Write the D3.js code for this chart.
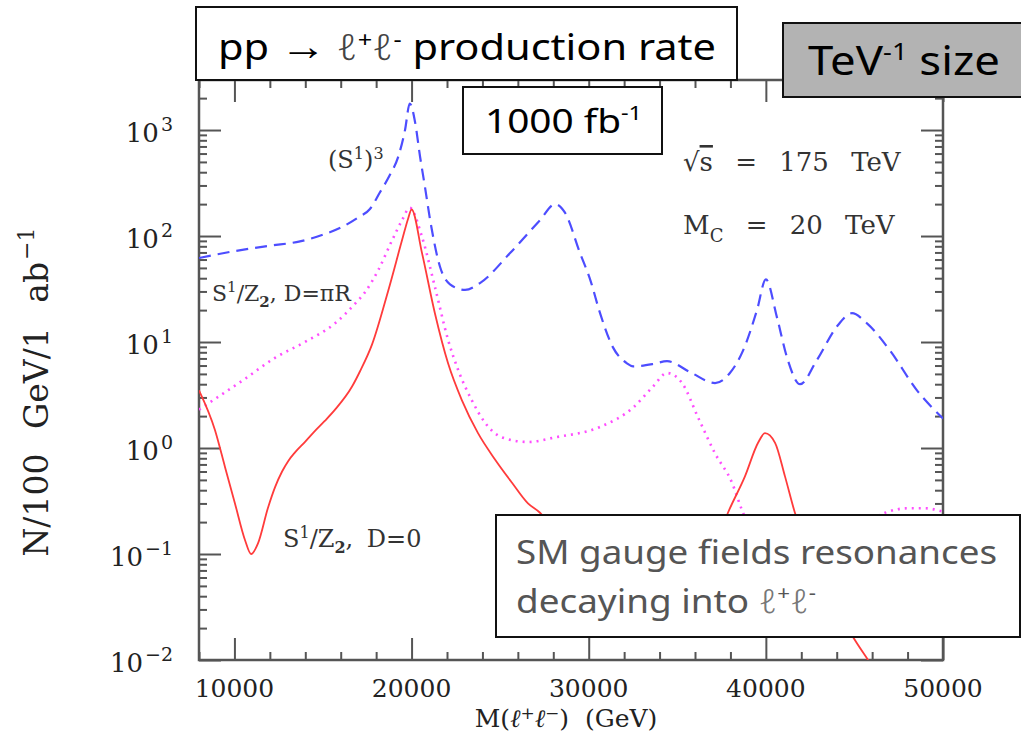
<!DOCTYPE html>
<html>
<head>
<meta charset="utf-8">
<script src="https://cdn.jsdelivr.net/npm/d3@7"></script>
<style>
body { margin: 0; background: #fff; }
svg { display: block; }
</style>
</head>
<body>
<div id="chart"></div>
<script>
// dilepton mass (GeV) and rate N/100 GeV/1 ab^-1
const massS13 = [8000, 10000, 12000, 13700, 15000, 16000, 17000, 17650, 18200, 18780, 19230, 19630, 19900, 20200, 20480, 20760, 21050, 21610, 22170, 23020, 23860, 25560, 27250, 28100, 28660, 29510, 30100, 30640, 31370, 32160, 32500, 33630, 34420, 35720, 37130, 37970, 38710, 39500, 40000, 40630, 41190, 41930, 42890, 44010, 44860, 45710, 47010, 48530, 50000];
const rateS13 = [62, 72, 81, 89, 103, 120, 150, 180, 256, 378, 550, 1000, 1780, 1180, 560, 288, 141, 51, 35, 31, 36, 69, 141, 200, 166, 69, 38, 18.7, 8.9, 6.3, 5.9, 6.2, 6.6, 5.2, 4.1, 5.1, 8.3, 20, 39, 17, 7.2, 4.0, 6.8, 14, 18.7, 15, 8.3, 3.5, 1.9];

const massPiR = [8000, 8900, 10600, 12290, 13980, 15680, 16810, 17370, 18100, 18900, 19460, 19900, 20590, 21320, 22060, 22620, 23410, 24140, 25100, 26570, 28100, 30640, 32500, 33630, 34420, 35270, 36170, 37130, 38090, 38650, 40000, 41500, 43500, 45500, 46890, 48000, 48980, 50000];
const ratePiR = [2.3, 2.9, 4.5, 7.1, 10, 15, 23, 29.5, 47, 91, 141, 185, 98, 33, 10.5, 5.5, 2.8, 1.74, 1.26, 1.14, 1.26, 1.58, 2.4, 3.8, 5.1, 4.1, 1.95, 0.89, 0.47, 0.26, 0.1, 0.07, 0.1, 0.19, 0.25, 0.27, 0.27, 0.25];

const massD0 = [8000, 8900, 9470, 10030, 10600, 10940, 11330, 11900, 12300, 12690, 13050, 13420, 14000, 14550, 15100, 15680, 16640, 17090, 17770, 18670, 19460, 19800, 20000, 20590, 21320, 22060, 22850, 23750, 24710, 25670, 26570, 27250, 28000, 29000, 31000, 33000, 35000, 36500, 37860, 38820, 39560, 39950, 40520, 41080, 41640, 43000, 44800, 45770, 47000];
const rateD0 = [3.5, 1.48, 0.66, 0.30, 0.135, 0.10, 0.126, 0.275, 0.43, 0.60, 0.76, 0.91, 1.15, 1.45, 1.80, 2.3, 3.8, 5.3, 9.5, 30, 91, 145, 178, 69, 18.6, 6.3, 2.8, 1.38, 0.78, 0.47, 0.30, 0.245, 0.17, 0.11, 0.06, 0.04, 0.033, 0.06, 0.245, 0.54, 1.12, 1.38, 1.12, 0.54, 0.245, 0.07, 0.0178, 0.01, 0.005];

const xTickValues = [10000, 20000, 30000, 40000, 50000];
const yExponents = [-2, -1, 0, 1, 2, 3];

const width = 1021, height = 749;
const plot = {left: 199, right: 943, top: 80, bottom: 660};

const svg = d3.select("#chart").append("svg")
    .attr("width", width)
    .attr("height", height);

const x = d3.scaleLinear().domain([8000, 50000]).range([plot.left, plot.right]);
const y = d3.scaleLog().domain([1e-2, Math.pow(10, 3.472)]).range([plot.bottom, plot.top]);

const axisColor = "#555";
const serif = "DejaVu Serif";

svg.append("clipPath").attr("id", "clip")
    .append("rect")
    .attr("x", plot.left).attr("y", plot.top)
    .attr("width", plot.right - plot.left).attr("height", plot.bottom - plot.top);

// ticks, all pointing into the frame
const xMinor = d3.range(8000, 50001, 2000).filter(d => d % 10000 !== 0);
const yMajor = yExponents.map(e => Math.pow(10, e));
const yMinor = [];
yExponents.forEach(e => d3.range(2, 10).forEach(m => {
    const v = m * Math.pow(10, e);
    if (v < y.domain()[1]) yMinor.push(v);
}));

function tickGroup(axis, tx, ty) {
    const g = svg.append("g")
        .attr("transform", `translate(${tx},${ty})`)
        .call(axis);
    g.select(".domain").remove();
    g.selectAll("line").attr("stroke", axisColor).attr("stroke-width", 2);
    return g;
}

tickGroup(d3.axisBottom(x).tickValues(xTickValues).tickSize(-22).tickSizeOuter(0).tickFormat(""), 0, plot.bottom);
tickGroup(d3.axisBottom(x).tickValues(xMinor).tickSize(-8).tickSizeOuter(0).tickFormat(""), 0, plot.bottom);
tickGroup(d3.axisTop(x).tickValues(xTickValues).tickSize(-22).tickSizeOuter(0).tickFormat(""), 0, plot.top);
tickGroup(d3.axisTop(x).tickValues(xMinor).tickSize(-8).tickSizeOuter(0).tickFormat(""), 0, plot.top);
tickGroup(d3.axisLeft(y).tickValues(yMajor).tickSize(-22).tickSizeOuter(0).tickFormat(""), plot.left, 0);
tickGroup(d3.axisLeft(y).tickValues(yMinor).tickSize(-8).tickSizeOuter(0).tickFormat(""), plot.left, 0);
tickGroup(d3.axisRight(y).tickValues(yMajor).tickSize(-22).tickSizeOuter(0).tickFormat(""), plot.right, 0);
tickGroup(d3.axisRight(y).tickValues(yMinor).tickSize(-8).tickSizeOuter(0).tickFormat(""), plot.right, 0);

svg.append("rect")
    .attr("x", plot.left).attr("y", plot.top)
    .attr("width", plot.right - plot.left).attr("height", plot.bottom - plot.top)
    .attr("fill", "none")
    .attr("stroke", axisColor)
    .attr("stroke-width", 2.5);

// tick labels
svg.selectAll(".xlabel")
    .data(xTickValues)
    .join("text")
    .attr("class", "xlabel")
    .attr("x", d => x(d))
    .attr("y", 697)
    .attr("text-anchor", "middle")
    .style("font-family", serif)
    .style("font-size", "25px")
    .attr("fill", "#222")
    .text(d => d);

const ylab = svg.selectAll(".ylabel")
    .data(yExponents)
    .join("text")
    .attr("class", "ylabel")
    .attr("x", 173)
    .attr("y", d => y(Math.pow(10, d)) + 12)
    .attr("text-anchor", "end")
    .style("font-family", serif)
    .style("font-size", "26px")
    .attr("fill", "#222");
ylab.append("tspan").text("10");
ylab.append("tspan")
    .attr("dy", -11)
    .attr("dx", 2)
    .style("font-size", "19px")
    .text(d => d < 0 ? "\u2212" + (-d) : d);

// axis titles
const yTitle = svg.append("text")
    .attr("transform", "translate(48,392) rotate(-90)")
    .attr("text-anchor", "middle")
    .style("font-family", serif)
    .style("font-size", "33px")
    .style("word-spacing", "14px")
    .attr("fill", "#222");
yTitle.append("tspan").text("N/100 GeV/1 ab");
yTitle.append("tspan").attr("dy", -14).attr("dx", 2).style("font-size", "22px").text("\u22121");

const xTitle = svg.append("text")
    .attr("x", 566).attr("y", 727)
    .attr("text-anchor", "middle")
    .style("font-family", serif)
    .style("font-size", "25px")
    .attr("fill", "#222");
xTitle.append("tspan").text("M(");
xTitle.append("tspan").style("font-style", "italic").text("\u2113");
xTitle.append("tspan").attr("dy", -8).style("font-size", "17px").text("+");
xTitle.append("tspan").attr("dy", 8).style("font-style", "italic").text("\u2113");
xTitle.append("tspan").attr("dy", -8).style("font-size", "17px").text("\u2212");
xTitle.append("tspan").attr("dy", 8).text(")\u00a0\u00a0(GeV)");

// curves
const line = d3.line()
    .x(d => x(d[0]))
    .y(d => y(d[1]))
    .curve(d3.curveMonotoneX);

const curves = svg.append("g").attr("clip-path", "url(#clip)");

curves.append("path")
    .datum(d3.zip(massPiR, ratePiR))
    .attr("d", line)
    .attr("fill", "none")
    .attr("stroke", "#ff4dff")
    .attr("stroke-width", 2.6)
    .attr("stroke-dasharray", "2,5");

curves.append("path")
    .datum(d3.zip(massD0, rateD0))
    .attr("d", line)
    .attr("fill", "none")
    .attr("stroke", "#ff3b3b")
    .attr("stroke-width", 1.8);

curves.append("path")
    .datum(d3.zip(massS13, rateS13))
    .attr("d", line)
    .attr("fill", "none")
    .attr("stroke", "#4d4dff")
    .attr("stroke-width", 2.2)
    .attr("stroke-dasharray", "12,7");

// curve names and parameters
function note(px, py, size) {
    return svg.append("text")
        .attr("x", px).attr("y", py)
        .style("font-family", serif)
        .style("font-size", size + "px")
        .attr("fill", "#333");
}
function sup(t, s, size) { t.append("tspan").attr("dy", -9).style("font-size", size + "px").text(s); }
function back(t, s) { t.append("tspan").attr("dy", 9).text(s); }

let t = note(328, 168, 24);
t.append("tspan").text("(S");
sup(t, "1", 16);
back(t, ")");
sup(t, "3", 16);

t = note(212, 301, 22);
t.append("tspan").text("S");
sup(t, "1", 15);
back(t, "/Z");
t.append("tspan").attr("dy", 6).style("font-size", "15px").style("font-weight", "bold").text("2");
t.append("tspan").attr("dy", -6).text(", D=\u03c0R");

t = note(283, 547, 24);
t.append("tspan").text("S");
sup(t, "1", 16);
back(t, "/Z");
t.append("tspan").attr("dy", 6).style("font-size", "16px").style("font-weight", "bold").text("2");
t.append("tspan").attr("dy", -6).style("word-spacing", "6px").text(", D=0");

t = note(683, 171, 26).style("word-spacing", "14px");
t.append("tspan").text("\u221a");
t.append("tspan").style("text-decoration", "overline").text("s");
t.append("tspan").text(" = 175 TeV");

t = note(683, 234, 26).style("word-spacing", "14px");
t.append("tspan").text("M");
t.append("tspan").attr("dy", 8).style("font-size", "18px").text("C");
t.append("tspan").attr("dy", -8).text(" = 20 TeV");

// boxes drawn over the chart
const sans = "Noto Sans";
function box(bx, by, bw, bh, fill) {
    svg.append("rect")
        .attr("x", bx).attr("y", by)
        .attr("width", bw).attr("height", bh)
        .attr("fill", fill)
        .attr("stroke", "#111")
        .attr("stroke-width", 2);
}
function boxText(px, py, size, len, color) {
    return svg.append("text")
        .attr("x", px).attr("y", py)
        .attr("textLength", len)
        .attr("lengthAdjust", "spacingAndGlyphs")
        .style("font-family", sans)
        .style("font-size", size + "px")
        .attr("fill", color);
}

box(196, 7, 541, 73, "#fff");
t = boxText(218, 60, 36, 498, "#000");
t.append("tspan").text("pp ");
t.append("tspan").style("font-weight", "bold").style("font-size", "40px").text("\u2192");
t.append("tspan").text(" ");
t.append("tspan").attr("fill", "#444").style("font-style", "italic").style("font-weight", "300").text("\u2113");
t.append("tspan").attr("dy", -13).style("font-size", "22px").text("+");
t.append("tspan").attr("dy", 13).attr("fill", "#444").style("font-style", "italic").style("font-weight", "300").text("\u2113");
t.append("tspan").attr("dy", -13).style("font-size", "22px").text("-");
t.append("tspan").attr("dy", 13).text(" production rate");

box(783, 23, 250, 74, "#b3b3b3");
t = boxText(808, 75, 40, 192, "#000");
t.append("tspan").text("TeV");
t.append("tspan").attr("dy", -15).style("font-size", "24px").text("-1");
t.append("tspan").attr("dy", 15).text(" size");

box(463, 87, 199, 67, "#fff");
t = boxText(485, 133, 33, 157, "#000");
t.append("tspan").text("1000 fb");
t.append("tspan").attr("dy", -13).style("font-size", "20px").text("-1");

box(496, 515, 524, 122, "#fff");
boxText(516, 564, 33, 481, "#555").text("SM gauge fields resonances");
t = boxText(516, 613, 33, 300, "#555");
t.append("tspan").text("decaying into ");
t.append("tspan").attr("fill", "#777").style("font-style", "italic").style("font-weight", "300").text("\u2113");
t.append("tspan").attr("dy", -13).style("font-size", "20px").text("+");
t.append("tspan").attr("dy", 13).attr("fill", "#777").style("font-style", "italic").style("font-weight", "300").text("\u2113");
t.append("tspan").attr("dy", -13).style("font-size", "20px").text("-");
</script>
</body>
</html>
